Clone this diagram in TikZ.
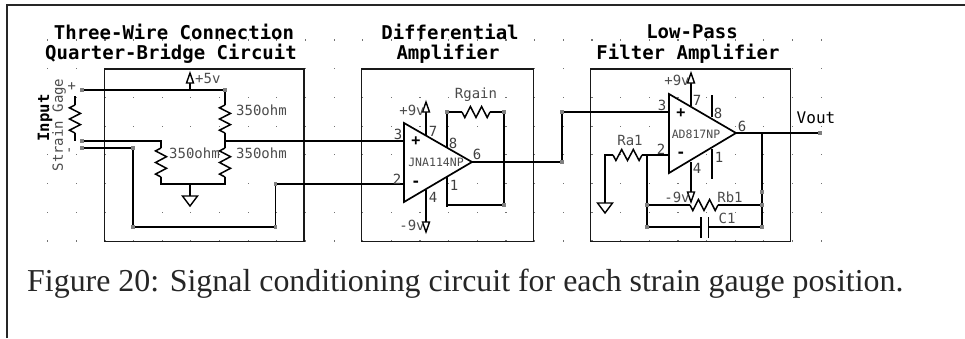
\documentclass[tikz,border=0pt]{standalone}
\usepackage{fontspec}
\setmainfont{Liberation Serif}
\newfontfamily\cad{DejaVu Sans Mono}
\usetikzlibrary{calc}
\tikzset{
  x=1pt,y=-1pt,
  wire/.style={draw=black,line width=1.5pt},
  boxf/.style={draw=black!90,line width=1.5pt},
  frame/.style={draw=black!85,line width=1.6pt},
  opamp/.style={draw=black,line width=1.7pt},
  lab/.style={font=\cad\fontsize{14}{14}\selectfont,text=black!70,inner sep=0pt},
  chip/.style={font=\cad\fontsize{11.5}{12}\selectfont,text=black!70,inner sep=0pt},
  pinlab/.style={font=\cad\fontsize{14}{14}\selectfont,text=black!75,inner sep=0pt},
  title/.style={font=\cad\bfseries\fontsize{19}{19}\selectfont,text=black,inner sep=0pt},
  sign/.style={font=\cad\bfseries\fontsize{15}{15}\selectfont,inner sep=0pt},
  term/.style={fill=black!50,draw=none,minimum size=3.4pt,inner sep=0pt,rectangle},
  griddot/.style={fill=black!55,draw=none},
  rail/.style={draw=black,line width=1.4pt,fill=white}
}
\newcommand{\hres}[3]{% x1 x2 y
  \draw[wire,line join=miter] (#1,#3)
   -- ($(#1,#3)!0.1!(#2,#3)+(0,5.5)$) -- ($(#1,#3)!0.3!(#2,#3)+(0,-5.5)$)
   -- ($(#1,#3)!0.5!(#2,#3)+(0,5.5)$) -- ($(#1,#3)!0.7!(#2,#3)+(0,-5.5)$)
   -- ($(#1,#3)!0.9!(#2,#3)+(0,5.5)$) -- (#2,#3);}
\newcommand{\vres}[3]{% y1 y2 x
  \draw[wire,line join=miter] (#3,#1)
   -- ($(#3,#1)!0.1!(#3,#2)+(-5.5,0)$) -- ($(#3,#1)!0.3!(#3,#2)+(5.5,0)$)
   -- ($(#3,#1)!0.5!(#3,#2)+(-5.5,0)$) -- ($(#3,#1)!0.7!(#3,#2)+(5.5,0)$)
   -- ($(#3,#1)!0.9!(#3,#2)+(-5.5,0)$) -- (#3,#2);}
\newcommand{\gnd}[2]{\draw[rail,line join=miter] (#1-7.5,#2) -- (#1+7.5,#2) -- (#1,#2+10) -- cycle;}
\newcommand{\railup}[2]{\draw[rail,line join=miter] (#1-3.5,#2+10) -- (#1+3.5,#2+10) -- (#1,#2) -- cycle;}
\newcommand{\raildown}[2]{\draw[rail,line join=miter] (#1-3.5,#2) -- (#1+3.5,#2) -- (#1,#2+10) -- cycle;}
\newcommand{\pindots}[1]{\foreach \px/\py in {#1}{\fill[black] (\px-1.4,\py-1.4) rectangle ++(2.8,2.8);}}
\begin{document}
\begin{tikzpicture}
\useasboundingbox (0,0) rectangle (965,338);
\fill[white] (0,0) rectangle (965,338);
% frame
\draw[frame] (7,338) -- (7,5) -- (965,5);
% grid
\foreach \k in {0,...,27}{\foreach \j in {0,...,7}{
  \fill[griddot] ({47.6+28.65*\k-0.6},{40+28.7*\j-0.6}) rectangle ++(1.2,1.2);}}
% boxes
\draw[boxf] (104.5,69) rectangle (304,241.5);
\draw[boxf] (361.5,69) rectangle (533.5,241.5);
\draw[boxf] (590.5,69) rectangle (790.5,241.5);
% titles
\node[title] (t1) at (174,32) {Three-Wire Connection};
\node[title] (t2) at (171,54) {Quarter-Bridge Circuit};
\node[title] (t3) at (450,32) {Differential};
\node[title] (t4) at (448,54) {Amplifier};
\node[title] (t5) at (692,32) {Low-Pass};
\node[title] (t6) at (688,54) {Filter Amplifier};
% first section
\draw[wire] (82,90) -- (225,90) -- (225,105);
\vres{105}{133}{225}
\draw[wire] (225,133) -- (225,148);
\vres{148}{177}{225}
\draw[wire] (225,177) -- (225,184);
\draw[wire] (161,141) -- (161,148);
\vres{148}{177}{161}
\draw[wire] (161,177) -- (161,184);
\draw[wire] (82,141) -- (161,141);
\draw[wire] (161,184) -- (225,184);
\draw[wire] (190,90) -- (190,83);
\railup{190}{73}
\draw[wire] (190,184) -- (190,196);
\gnd{190}{196}
\draw[wire] (75,97) -- (75,105);
\vres{105}{133}{75}
\draw[wire] (75,133) -- (75,140);
\draw[wire] (225,141) -- (404,141);
\draw[wire] (82,148) -- (133,148) -- (133,227) -- (275.5,227) -- (275.5,184) -- (404,184);
\node[term] (a) at (82,90) {};
\node[term] (b) at (82,141) {};
\node[term] (c) at (82,148) {};
\node[term] at (133,148) {};
\node[term] at (133,227) {};
\node[term] at (275.5,227) {};
\node[term] at (275.5,184) {};
\node[term] at (225,90) {};
\pindots{75/97,75/140,225/97,225/141,161/141,161/184,225/184,190/184}
\node[lab,anchor=west] at (195,78) {+5v};
\node[lab,anchor=west] at (236,110) {350ohm};
\node[lab,anchor=west] at (236,153) {350ohm};
\node[lab,anchor=west] at (169,153) {350ohm};
\node[title,font=\cad\bfseries\fontsize{15.6}{15}\selectfont,rotate=90] at (45,118) {Input};
\node[lab,rotate=90] at (59,125) {Strain Gage};
\node[lab,rotate=90] at (72,86) {+};
\node[lab,rotate=90] at (71,150) {-};
% INA
\draw[wire] (426,135) -- (426,112);
\railup{426}{102}
\draw[wire] (426,190) -- (426,222);
\raildown{426}{222}
\draw[wire] (447,147) -- (447,112) -- (462,112);
\hres{462}{490}{112}
\draw[wire] (490,112) -- (504,112) -- (504,205) -- (447,205) -- (447,177);
\draw[wire] (472,162) -- (562,162) -- (562,112) -- (669,112);
\draw[opamp,line join=miter,fill=white] (404,123) -- (404,202) -- (472,162) -- cycle;
\node[term] at (447,112) {};
\node[term] at (504,112) {};
\node[term] at (504,205) {};
\node[term] at (562,162) {};
\node[term] at (562,112) {};
\pindots{383/141,383/184,447/127,455/112,498/112,447/206,497/162}
\node[sign] at (416,141) {+};
\node[sign] at (416,184) {-};
\node[chip] at (436,162) {JNA114NP};
\node[pinlab] at (398,134) {3};
\node[pinlab] at (397,179) {2};
\node[pinlab] at (433,131) {7};
\node[pinlab] at (453,143) {8};
\node[pinlab] at (454,185) {1};
\node[pinlab] at (477,154) {6};
\node[pinlab] at (433,197) {4};
\node[lab] at (412,110) {+9v};
\node[lab] at (412,225) {-9v};
\node[lab] at (476,95) {Rgain};
% AD817
\draw[wire] (691,106) -- (691,83);
\railup{691}{73}
\draw[wire] (691,162) -- (691,192);
\raildown{691}{192}
\draw[wire] (712,117) -- (712,96);
\draw[wire] (712,149) -- (712,178);
\draw[wire] (736,133) -- (820,133);
\draw[wire] (762,133) -- (762,227) -- (709,227);
\draw[wire] (701,227) -- (647,227) -- (647,155);
\draw[wire] (669,155) -- (642,155);
\hres{613}{642}{155}
\draw[wire] (613,155) -- (605,155) -- (605,203);
\gnd{605}{203}
\draw[wire] (647,205) -- (690,205);
\hres{690}{718}{205}
\draw[wire] (718,205) -- (762,205);
\draw[wire] (701,217) -- (701,238);
\draw[wire] (708.5,217) -- (708.5,238);
\draw[opamp,line join=miter,fill=white] (669,94) -- (669,173) -- (736,133) -- cycle;
\node[term] at (820,133) {};
\node[term] at (647,205) {};
\node[term] at (647,227) {};
\node[term] at (762,205) {};
\node[term] at (762,227) {};
\node[term] at (762,192) {};
\pindots{647/112,647/155,605/155,605/192,712/96,712/178,762/133,684/205,726/205,684/227,726/227}
\node[sign] at (681,113) {+};
\node[sign] at (681,155) {-};
\node[chip] at (696,134) {AD817NP};
\node[pinlab] at (662,105) {3};
\node[pinlab] at (661,149) {2};
\node[pinlab] at (697,100) {7};
\node[pinlab] at (718,113) {8};
\node[pinlab] at (719,157) {1};
\node[pinlab] at (742,126) {6};
\node[pinlab] at (697,168) {4};
\node[lab] at (677,80) {+9v};
\node[lab] at (677,197) {-9v};
\node[lab] at (730,197) {Rb1};
\node[lab] at (727,218) {C1};
\node[lab] at (630,140) {Ra1};
\node[title,font=\cad\fontsize{16}{15}\selectfont] at (816,118) {Vout};
% caption
\node[anchor=base west,inner sep=0pt,font=\fontsize{31.9}{32}\selectfont,text=black!85] (cap) at (27,291.5) {Figure 20: Signal conditioning circuit for each strain gauge position.};
\end{tikzpicture}
\end{document}
